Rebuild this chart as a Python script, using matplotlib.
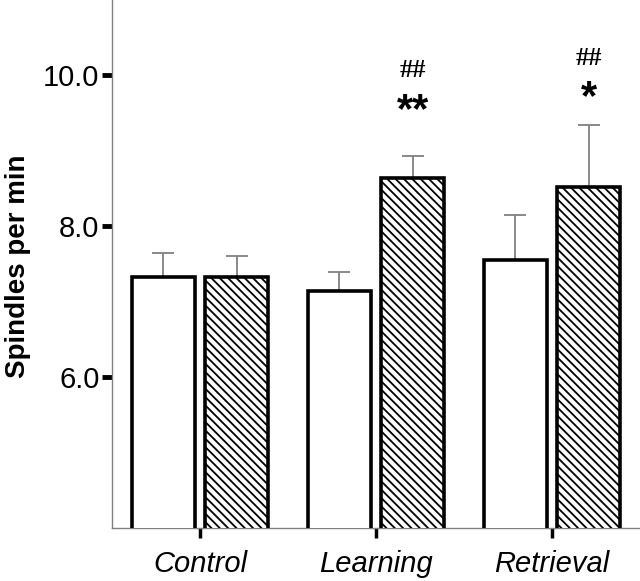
import numpy as np
import matplotlib
matplotlib.use("Agg")
import matplotlib.pyplot as plt

groups = ["Control", "Learning", "Retrieval"]
baseline_means = [7.33, 7.14, 7.55]
baseline_err = [0.31, 0.25, 0.60]
post_means = [7.33, 8.64, 8.52]
post_err = [0.28, 0.29, 0.82]
star_marks = ["**", "*"]
hash_marks = ["##", "##"]
star_y = [9.53, 9.70]
hash_y = [10.06, 10.22]

plt.rcParams["font.family"] = ["Liberation Sans", "DejaVu Sans"]
plt.rcParams["hatch.linewidth"] = 1.3

fig = plt.figure(figsize=(6.4, 5.81), dpi=100)
ax = fig.add_axes([0.175, 0.0912, 0.825, 0.9088])

x = np.arange(len(groups))
w = 0.36
off = 0.208
grey = "#808080"

ax.bar(x - off, baseline_means, w, color="white", edgecolor="black",
       linewidth=2.6, zorder=3)
ax.bar(x + off, post_means, w, color="white", edgecolor="black", hatch="\\\\\\\\",
       linewidth=2.6, zorder=3)
ax.errorbar(x - off, baseline_means, yerr=[np.zeros(3), baseline_err], fmt="none",
            ecolor=grey, elinewidth=1.3, capsize=8, capthick=1.3, zorder=2)
ax.errorbar(x + off, post_means, yerr=[np.zeros(3), post_err], fmt="none",
            ecolor=grey, elinewidth=1.3, capsize=8, capthick=1.3, zorder=2)

for i, (s, h, sy, hy) in enumerate(zip(star_marks, hash_marks, star_y, hash_y)):
    xi = x[i + 1] + off
    ax.text(xi, sy, s, ha="center", va="center", fontsize=30, fontweight="bold")
    ax.text(xi, hy, h, ha="center", va="center", fontsize=19, fontweight="bold",
            family=["Liberation Serif", "DejaVu Serif"])

ax.set_xlim(-0.5, 2.5)
ax.set_ylim(4.0, 11.0)
ax.set_yticks([6, 8, 10])
ax.set_yticklabels(["6.0", "8.0", "10.0"])
ax.set_xticks(x)
ax.set_xticklabels(groups, fontstyle="italic")

for side in ["top", "right"]:
    ax.spines[side].set_visible(False)
for side in ["left", "bottom"]:
    ax.spines[side].set_color(grey)
    ax.spines[side].set_linewidth(1.0)

ax.tick_params(axis="y", length=7, width=3.5, pad=2, labelsize=21, color="black")
ax.tick_params(axis="x", length=7, width=2.5, pad=9, labelsize=21, color="black")

ax.set_ylabel("Spindles per min", fontsize=20, fontweight="bold")
ax.yaxis.set_label_coords(-0.153, 0.495)

fig.savefig("out.png", dpi=100)
